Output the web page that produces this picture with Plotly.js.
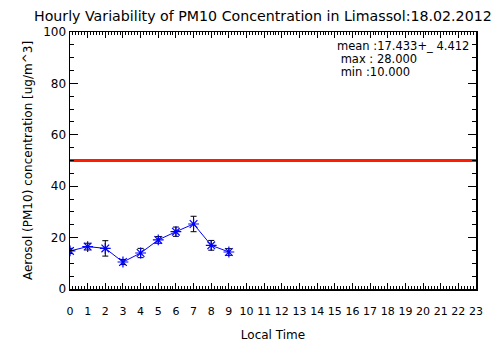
<!DOCTYPE html>
<html><head><meta charset="utf-8">
<script src="https://cdn.plot.ly/plotly-3.0.1.min.js"></script>
<style>html,body{margin:0;padding:0;background:#fff;}#chart{width:504px;height:361px;}</style>
</head><body><div id="chart"></div>
<script>
const hours = [0,1,2,3,4,5,6,7,8,9];
const pm10 = [14.8,16.5,15.8,10.5,14.0,19.1,22.3,25.3,17.0,14.4];
const pm10Err = [1.0,1.3,3.0,1.0,1.8,1.3,1.8,3.0,1.9,1.3];
const limitValue = 50;
const xTicks = [0,1,2,3,4,5,6,7,8,9,10,11,12,13,14,15,16,17,18,19,20,21,22,23];
const yTicks = [0,20,40,60,80,100];
const statsLines = ["mean :17.433+_ 4.412", " max : 28.000", " min :10.000"];
const titleText = "Hourly Variability of PM10 Concentration in Limassol:18.02.2012";

const font = {family: "DejaVu Sans", size: 12, color: "#000"};

const traces = [
  {x: [xTicks[0], xTicks[xTicks.length-1]], y: [limitValue, limitValue], mode: "lines",
   line: {color: "#ff1a00", width: 3}, hoverinfo: "skip", xaxis: "x2", yaxis: "y2"},
  {x: hours, y: pm10, mode: "lines+markers",
   line: {color: "#0000ff", width: 1},
   marker: {symbol: "asterisk-open", size: 9, color: "#0000ff", line: {color: "#0000ff", width: 1.2}},
   error_y: {type: "data", array: pm10Err, visible: true, color: "#000", thickness: 1, width: 3}}
];

const statY = [0.946, 0.895, 0.844];
const annotations = statsLines.map((t, i) => ({
  xref: "paper", yref: "paper", x: 0.652, y: statY[i], xanchor: "left", yanchor: "middle",
  text: t, showarrow: false, font: {family: "DejaVu Sans", size: 11.5, color: "#000"}
}));

const xBase = {range: [0, 23], tickvals: xTicks, ticktext: xTicks.map(String),
  ticks: "inside", ticklen: 6, tickwidth: 1, tickcolor: "#000",
  showline: true, linecolor: "#000", linewidth: 1.5,
  showgrid: false, zeroline: false,
  minor: {dtick: 1/6, ticks: "inside", ticklen: 3, tickcolor: "#000", showgrid: false}};
const yBase = {range: [0, 100], tickvals: yTicks, ticktext: yTicks.map(String),
  ticks: "inside", ticklen: 8, tickwidth: 1, tickcolor: "#000",
  showline: true, linecolor: "#000", linewidth: 1.5,
  showgrid: false, zeroline: false,
  minor: {dtick: 5, ticks: "inside", ticklen: 4, tickcolor: "#000", showgrid: false}};

const layout = {
  width: 504, height: 361,
  margin: {l: 70, r: 28, t: 32, b: 72},
  paper_bgcolor: "#fff", plot_bgcolor: "#fff",
  showlegend: false,
  font: font,
  title: {text: titleText, xref: "container", x: 34/504, xanchor: "left", y: 1 - 16/361, yanchor: "middle",
          font: {family: "DejaVu Sans", size: 14.2, color: "#000"}},
  xaxis: Object.assign({}, xBase, {
          tickfont: {family: "DejaVu Sans", size: 11}, ticklabelstandoff: 11,
          title: {text: "Local Time", standoff: 14, font: {family: "DejaVu Sans", size: 12}}}),
  yaxis: Object.assign({}, yBase, {
          tickfont: {family: "DejaVu Sans", size: 12},
          title: {text: "Aerosol (PM10) concentration [ug/m^3]", standoff: 8, font: {family: "DejaVu Sans", size: 12}}}),
  xaxis2: Object.assign({}, xBase, {overlaying: "x", side: "top", matches: "x", showticklabels: false}),
  yaxis2: Object.assign({}, yBase, {overlaying: "y", side: "right", matches: "y", showticklabels: false}),
  annotations: annotations
};

Plotly.newPlot("chart", traces, layout, {displayModeBar: false, staticPlot: true});
</script></body></html>
